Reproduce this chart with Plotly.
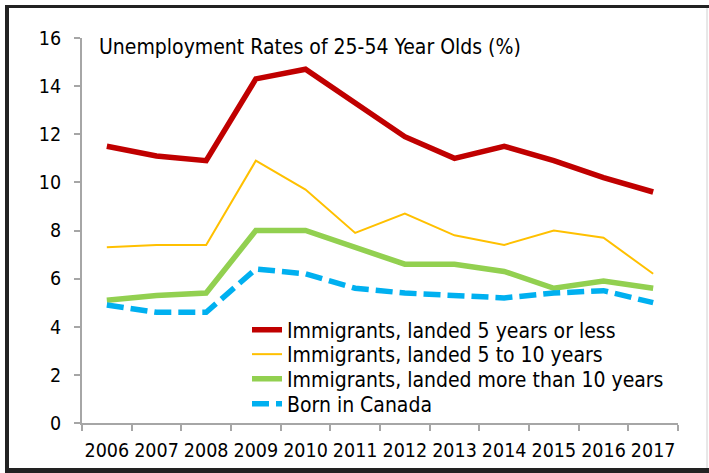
import plotly.graph_objects as go

years = [str(y) for y in range(2006, 2018)]
landed_5_or_less = [11.5, 11.1, 10.9, 14.3, 14.7, 13.3, 11.9, 11.0, 11.5, 10.9, 10.2, 9.6]
landed_5_to_10 = [7.3, 7.4, 7.4, 10.9, 9.7, 7.9, 8.7, 7.8, 7.4, 8.0, 7.7, 6.2]
landed_more_10 = [5.1, 5.3, 5.4, 8.0, 8.0, 7.3, 6.6, 6.6, 6.3, 5.6, 5.9, 5.6]
born_in_canada = [4.9, 4.6, 4.6, 6.4, 6.2, 5.6, 5.4, 5.3, 5.2, 5.4, 5.5, 5.0]
series_names = ["Immigrants, landed 5 years or less", "Immigrants, landed 5 to 10 years",
                "Immigrants, landed more than 10 years", "Born in Canada"]
y_ticks = list(range(0, 17, 2))
title_text = "Unemployment Rates of 25-54 Year Olds (%)"

FONT = "DejaVu Sans Condensed"
FS = 21
TICK_FS = 19.5
W, H = 709, 473
L, R, T, B = 82, 31, 38, 50
PW, PH = W - L - R, H - T - B

def px(x):
    return (x - L) / PW

def py(y):
    return (H - B - y) / PH

fig = go.Figure()
styles = [
    dict(color="#C00000", width=5.5, dash="solid"),
    dict(color="#FFC000", width=2, dash="solid"),
    dict(color="#92D050", width=5.5, dash="solid"),
    dict(color="#00B0F0", width=5.5, dash="17px,7px"),
]
legend_ids = ["legend", "legend2", "legend3", "legend4"]
legend_rows = [330, 354.5, 379, 404]
for name, vals, st, lg in zip(series_names, [landed_5_or_less, landed_5_to_10, landed_more_10, born_in_canada], styles, legend_ids):
    fig.add_trace(go.Scatter(x=years, y=vals, mode="lines", name=name, legend=lg,
                             line=dict(color=st["color"], width=st["width"], dash=st["dash"])))

legend_layout = {}
for lg, row in zip(legend_ids, legend_rows):
    legend_layout[lg] = dict(x=px(247), y=py(row), xanchor="left", yanchor="middle",
                             bgcolor="rgba(0,0,0,0)", font=dict(family=FONT, size=FS, color="#000000"),
                             itemwidth=30)

fig.update_layout(
    width=W, height=H,
    margin=dict(l=L, r=R, t=T, b=B, pad=0),
    paper_bgcolor="white", plot_bgcolor="white",
    font=dict(family=FONT, size=FS, color="#000000"),
    showlegend=True,
    xaxis=dict(type="category", range=[-0.5, 11.5], tickson="boundaries",
               ticks="outside", ticklen=6, tickcolor="#A6A6A6", tickwidth=2,
               showline=True, linecolor="#A6A6A6", linewidth=2, showgrid=False,
               tickangle=0, ticklabelstandoff=9,
               tickfont=dict(family=FONT, size=TICK_FS), zeroline=False),
    yaxis=dict(range=[0, 16], tickvals=y_ticks, ticks="outside", ticklen=6,
               tickcolor="#A6A6A6", tickwidth=2, showline=True, linecolor="#A6A6A6",
               linewidth=2, showgrid=False, zeroline=False, ticklabelstandoff=9,
               tickfont=dict(family=FONT, size=TICK_FS)),
    annotations=[dict(text=title_text, xref="paper", yref="paper", x=px(97), y=py(47),
                      xanchor="left", yanchor="middle", showarrow=False,
                      font=dict(family=FONT, size=FS, color="#000000"))],
    shapes=[
        dict(type="line", xref="paper", yref="paper", x0=px(7), x1=px(7), y0=py(5), y1=py(471),
             line=dict(color="#222222", width=4)),
        dict(type="line", xref="paper", yref="paper", x0=px(5), x1=px(709), y0=py(6.5), y1=py(6.5),
             line=dict(color="#222222", width=3)),
        dict(type="line", xref="paper", yref="paper", x0=px(5), x1=px(709), y0=py(470.5), y1=py(470.5),
             line=dict(color="#222222", width=5)),
        dict(type="line", xref="paper", yref="paper", x0=px(707), x1=px(707), y0=py(8), y1=py(468),
             line=dict(color="#D0D0D0", width=1)),
    ],
    **legend_layout,
)

fig.write_html("out.html", config={"displayModeBar": False},
               post_script="document.body.style.margin='0';document.body.style.overflow='hidden';")
